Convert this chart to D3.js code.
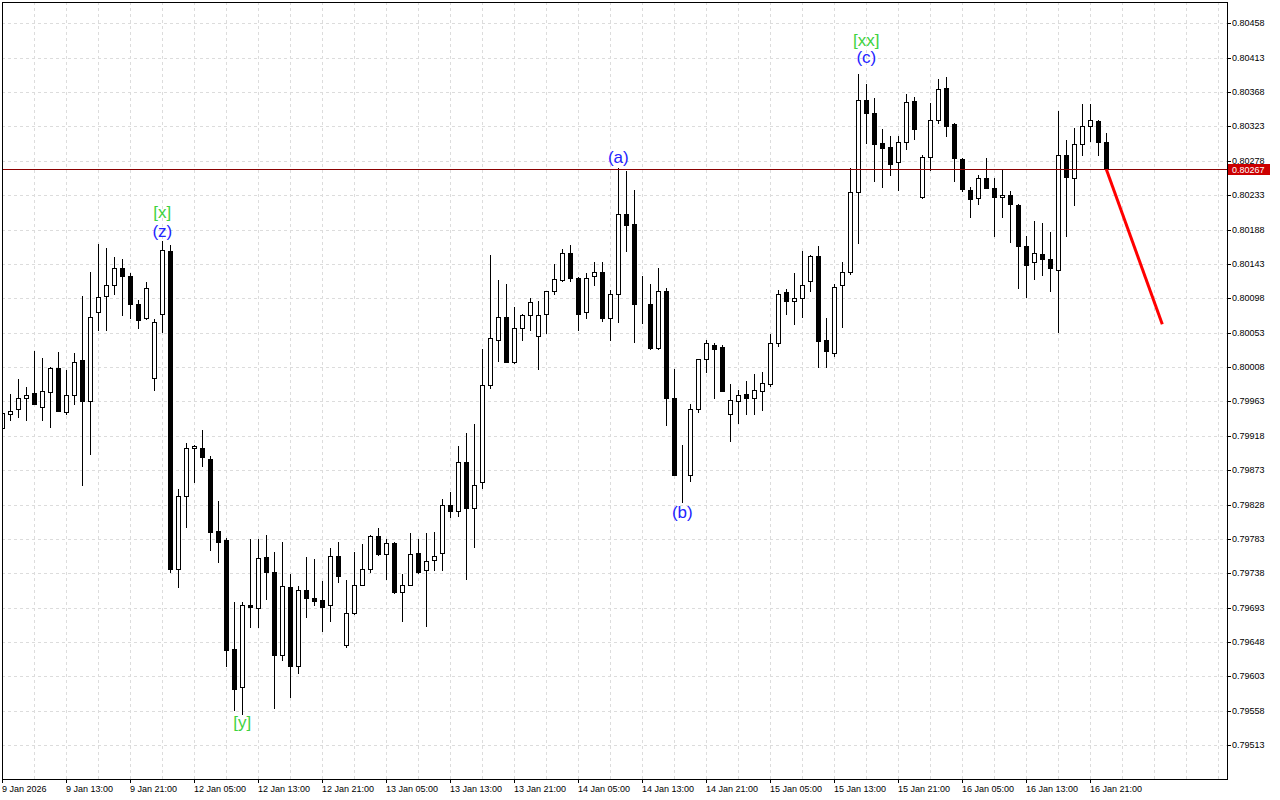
<!DOCTYPE html>
<html><head><meta charset="utf-8">
<script src="https://cdn.jsdelivr.net/npm/d3@7/dist/d3.min.js"></script>
<style>body{margin:0;background:#fff;}svg{display:block;}</style>
</head><body>
<svg id="chart" width="1280" height="800"></svg>
<script>
// ---- data (EURUSD-like H1 bars) ----
const opens = [0.79928,0.79947,0.79953,0.79968,0.79974,0.79955,0.79975,0.80007,0.79949,0.79972,
0.80017,0.79964,0.80080,0.80101,0.80116,0.80137,0.80127,0.80091,0.80072,0.79993,
0.80077,0.80160,0.79744,0.79839,0.79902,0.79902,0.79888,0.79793,0.79781,0.79639,
0.79589,0.79697,0.79693,0.79759,0.79739,0.79631,0.79720,0.79617,0.79716,0.79705,
0.79703,0.79696,0.79761,0.79644,0.79686,0.79723,0.79744,0.79787,0.79763,0.79777,
0.79713,0.79723,0.79765,0.79742,0.79755,0.79764,0.79827,0.79819,0.79883,0.79824,
0.79858,0.79985,0.80044,0.80073,0.80014,0.80059,0.80076,0.80048,0.80078,0.80107,
0.80122,0.80157,0.80125,0.80080,0.80127,0.80133,0.80072,0.80103,0.80208,0.80195,
0.80091,0.80091,0.80033,0.80108,0.79968,0.79867,0.79867,0.79953,0.80018,0.80037,
0.80034,0.79946,0.79964,0.79973,0.79968,0.79977,0.79986,0.80040,0.80106,0.80094,
0.80099,0.80120,0.80153,0.80043,0.80026,0.80115,0.80132,0.80237,0.80357,0.80340,
0.80301,0.80296,0.80277,0.80303,0.80356,0.80230,0.80283,0.80332,0.80373,0.80326,
0.80280,0.80240,0.80229,0.80255,0.80243,0.80230,0.80233,0.80220,0.80167,0.80145,
0.80156,0.80149,0.80135,0.80286,0.80255,0.80300,0.80324,0.80330,0.80302];
const highs = [0.79952,0.79973,0.79992,0.79982,0.80029,0.80020,0.80008,0.80028,0.80004,0.80026,
0.80101,0.80132,0.80169,0.80164,0.80152,0.80150,0.80131,0.80096,0.80119,0.80071,
0.80173,0.80168,0.79848,0.79908,0.79906,0.79925,0.79891,0.79833,0.79784,0.79701,
0.79700,0.79783,0.79783,0.79788,0.79766,0.79779,0.79737,0.79721,0.79759,0.79757,
0.79728,0.79771,0.79779,0.79729,0.79766,0.79776,0.79788,0.79797,0.79783,0.79779,
0.79737,0.79791,0.79783,0.79791,0.79792,0.79835,0.79844,0.79904,0.79922,0.79934,
0.80032,0.80154,0.80122,0.80117,0.80086,0.80078,0.80098,0.80094,0.80108,0.80143,
0.80163,0.80168,0.80126,0.80131,0.80146,0.80146,0.80109,0.80268,0.80265,0.80240,
0.80127,0.80117,0.80138,0.80112,0.80006,0.79906,0.79960,0.80019,0.80044,0.80040,
0.80037,0.79986,0.79978,0.79990,0.79999,0.80001,0.80051,0.80109,0.80110,0.80131,
0.80160,0.80155,0.80166,0.80072,0.80117,0.80145,0.80269,0.80392,0.80379,0.80360,
0.80319,0.80311,0.80311,0.80365,0.80362,0.80286,0.80354,0.80385,0.80388,0.80328,
0.80281,0.80244,0.80259,0.80282,0.80256,0.80266,0.80238,0.80222,0.80179,0.80199,
0.80196,0.80185,0.80343,0.80305,0.80321,0.80352,0.80353,0.80332,0.80314];
const lows = [0.79925,0.79939,0.79942,0.79939,0.79959,0.79938,0.79930,0.79951,0.79947,0.79959,
0.79853,0.79894,0.80057,0.80057,0.80103,0.80076,0.80072,0.80059,0.80071,0.79978,
0.80054,0.79740,0.79720,0.79799,0.79858,0.79879,0.79768,0.79753,0.79617,0.79559,
0.79554,0.79668,0.79667,0.79704,0.79561,0.79625,0.79576,0.79608,0.79681,0.79697,
0.79663,0.79676,0.79727,0.79641,0.79685,0.79722,0.79740,0.79762,0.79730,0.79712,
0.79675,0.79722,0.79738,0.79669,0.79742,0.79742,0.79812,0.79813,0.79730,0.79773,
0.79850,0.79980,0.80016,0.80014,0.80013,0.80044,0.80057,0.80006,0.80053,0.80103,
0.80121,0.80120,0.80057,0.80072,0.80116,0.80068,0.80043,0.80067,0.80160,0.80041,
0.80066,0.80031,0.80031,0.79932,0.79866,0.79831,0.79859,0.79949,0.80002,0.79968,
0.79977,0.79911,0.79935,0.79947,0.79947,0.79952,0.79983,0.80036,0.80077,0.80064,
0.80074,0.80108,0.80008,0.80008,0.80023,0.80061,0.80130,0.80171,0.80301,0.80251,
0.80244,0.80260,0.80240,0.80294,0.80306,0.80229,0.80266,0.80328,0.80311,0.80251,
0.80239,0.80205,0.80222,0.80242,0.80180,0.80205,0.80172,0.80111,0.80100,0.80123,
0.80128,0.80108,0.80054,0.80180,0.80220,0.80285,0.80304,0.80285,0.80267];
const closes = [0.79948,0.79951,0.79967,0.79972,0.79960,0.79977,0.80007,0.79951,0.79972,0.80015,
0.79964,0.80074,0.80100,0.80116,0.80137,0.80127,0.80091,0.80070,0.80112,0.80067,
0.80161,0.79744,0.79839,0.79902,0.79905,0.79890,0.79792,0.79779,0.79637,0.79587,
0.79697,0.79694,0.79758,0.79740,0.79631,0.79721,0.79617,0.79716,0.79705,0.79702,
0.79694,0.79761,0.79735,0.79686,0.79722,0.79744,0.79787,0.79763,0.79777,0.79713,
0.79723,0.79763,0.79740,0.79754,0.79761,0.79827,0.79819,0.79883,0.79823,0.79854,
0.79985,0.80046,0.80073,0.80015,0.80059,0.80076,0.80093,0.80076,0.80107,0.80123,
0.80157,0.80125,0.80078,0.80125,0.80133,0.80072,0.80103,0.80208,0.80194,0.80091,
0.80091,0.80033,0.80108,0.79968,0.79867,0.79867,0.79953,0.80018,0.80039,0.80032,
0.79977,0.79965,0.79971,0.79968,0.79978,0.79987,0.80039,0.80104,0.80095,0.80098,
0.80116,0.80153,0.80042,0.80029,0.80113,0.80132,0.80237,0.80358,0.80341,0.80300,
0.80295,0.80274,0.80303,0.80355,0.80320,0.80283,0.80332,0.80372,0.80324,0.80281,
0.80241,0.80228,0.80255,0.80243,0.80230,0.80233,0.80221,0.80167,0.80142,0.80157,
0.80149,0.80137,0.80286,0.80257,0.80300,0.80324,0.80332,0.80303,0.80267];

const timeLabels = ["9 Jan 2026","9 Jan 13:00","9 Jan 21:00","12 Jan 05:00","12 Jan 13:00","12 Jan 21:00",
"13 Jan 05:00","13 Jan 13:00","13 Jan 21:00","14 Jan 05:00","14 Jan 13:00","14 Jan 21:00",
"15 Jan 05:00","15 Jan 13:00","15 Jan 21:00","16 Jan 05:00","16 Jan 13:00","16 Jan 21:00"];
const barsPerLabel = 8;
const priceTicks = [0.79513,0.79558,0.79603,0.79648,0.79693,0.79738,0.79783,0.79828,0.79873,0.79918,
0.79963,0.80008,0.80053,0.80098,0.80143,0.80188,0.80233,0.80278,0.80323,0.80368,0.80413,0.80458];
const lastPrice = 0.80267;
const forecastBars = [138, 145];
const forecastPrices = [0.80267, 0.80064];
const waveText  = ["[x]","(z)","[y]","(a)","(b)","[xx]","(c)"];
const waveBar   = [20, 20, 30, 77, 85, 108, 108];
const wavePrice = [0.80210,0.80185,0.79542,0.80282,0.79818,0.80436,0.80413];
const waveKind  = ["major","minor","major","minor","minor","major","minor"];

// ---- layout ----
const svg = d3.select("#chart");
const L = 2, T = 2, R = 1227, B = 779;
const x = d3.scaleLinear().domain([0, 153]).range([2.3, 2.3 + 8 * 153]);
const y = d3.scaleLinear().domain([0.79513, 0.80458]).range([745.1, 23.3]);
const px = v => Math.round(x(v));
const py = v => Math.round(y(v));

svg.append("rect").attr("width",1280).attr("height",800).attr("fill","#fff");
svg.append("defs").append("clipPath").attr("id","clip")
  .append("rect").attr("x",L+1).attr("y",T+1).attr("width",R-L-1).attr("height",B-T-1);

// grid
const grid = svg.append("g").attr("stroke","#dcdcdc").attr("stroke-dasharray","3,3").attr("shape-rendering","crispEdges");
grid.selectAll("line.h").data(priceTicks).join("line")
  .attr("x1",L).attr("x2",R).attr("y1",d=>py(d)+0.5).attr("y2",d=>py(d)+0.5);
const vgrid = d3.range(4, 153, 4);
grid.selectAll("line.v").data(vgrid).join("line")
  .attr("x1",d=>px(d)+0.5).attr("x2",d=>px(d)+0.5).attr("y1",T).attr("y2",B);

// candles
const plot = svg.append("g").attr("clip-path","url(#clip)").attr("shape-rendering","crispEdges");
const idx = d3.range(opens.length);
plot.selectAll("line.wick").data(idx).join("line")
  .attr("x1",i=>px(i)+0.5).attr("x2",i=>px(i)+0.5)
  .attr("y1",i=>py(highs[i])).attr("y2",i=>py(lows[i])+1)
  .attr("stroke","#000");
plot.selectAll("rect.body").data(idx).join("rect")
  .attr("x",i=>px(i)-2+0.5)
  .attr("y",i=>py(Math.max(opens[i],closes[i]))+0.5)
  .attr("width",4)
  .attr("height",i=>Math.max(0, py(Math.min(opens[i],closes[i])) - py(Math.max(opens[i],closes[i]))))
  .attr("fill",i=>closes[i] < opens[i] ? "#000" : "#fff")
  .attr("stroke","#000");

// current price line
svg.append("line").attr("x1",L).attr("x2",R).attr("y1",py(lastPrice)+0.5).attr("y2",py(lastPrice)+0.5)
  .attr("stroke","#8b0000").attr("stroke-width",1).attr("shape-rendering","crispEdges");

// forecast line
svg.append("line")
  .attr("x1",x(forecastBars[0])).attr("y1",y(forecastPrices[0]))
  .attr("x2",x(forecastBars[1])).attr("y2",y(forecastPrices[1]))
  .attr("stroke","#ff0000").attr("stroke-width",3);

// wave labels
svg.selectAll("text.wave").data(d3.range(waveText.length)).join("text")
  .attr("x",i=>x(waveBar[i])).attr("y",i=>y(wavePrice[i]))
  .attr("text-anchor","middle").attr("dominant-baseline","central")
  .attr("font-family","Liberation Sans, Arial, sans-serif").attr("font-size",17)
  .attr("fill",i=>waveKind[i]==="major" ? "#3ed23e" : "#2323ff")
  .text(i=>waveText[i]);

// frame
svg.append("rect").attr("x",L+0.5).attr("y",T+0.5).attr("width",R-L).attr("height",B-T)
  .attr("fill","none").attr("stroke","#000").attr("shape-rendering","crispEdges");

// right axis
const ra = svg.append("g").attr("font-family","Liberation Sans, Arial, sans-serif").attr("font-size",9);
priceTicks.forEach(p=>{
  ra.append("line").attr("x1",R).attr("x2",R+4).attr("y1",py(p)+0.5).attr("y2",py(p)+0.5).attr("stroke","#000");
  ra.append("text").attr("x",R+5).attr("y",py(p)).attr("dominant-baseline","central").text(d3.format(".5f")(p));
});
// current price box
const cy = py(lastPrice);
svg.append("rect").attr("x",R+1).attr("y",cy-5).attr("width",42).attr("height",11).attr("fill","#cc0000");
svg.append("text").attr("x",R+5).attr("y",cy+0.5).attr("dominant-baseline","central")
  .attr("font-family","Liberation Sans, Arial, sans-serif").attr("font-size",9).attr("fill","#fff")
  .text(d3.format(".5f")(lastPrice));

// bottom axis
const ba = svg.append("g").attr("font-family","Liberation Sans, Arial, sans-serif").attr("font-size",9);
timeLabels.forEach((t,k)=>{
  const xx = px(k*barsPerLabel);
  ba.append("line").attr("x1",xx+0.5).attr("x2",xx+0.5).attr("y1",B).attr("y2",B+4).attr("stroke","#000");
  ba.append("text").attr("x",xx).attr("y",B+13).text(t);
});
</script>
</body></html>
